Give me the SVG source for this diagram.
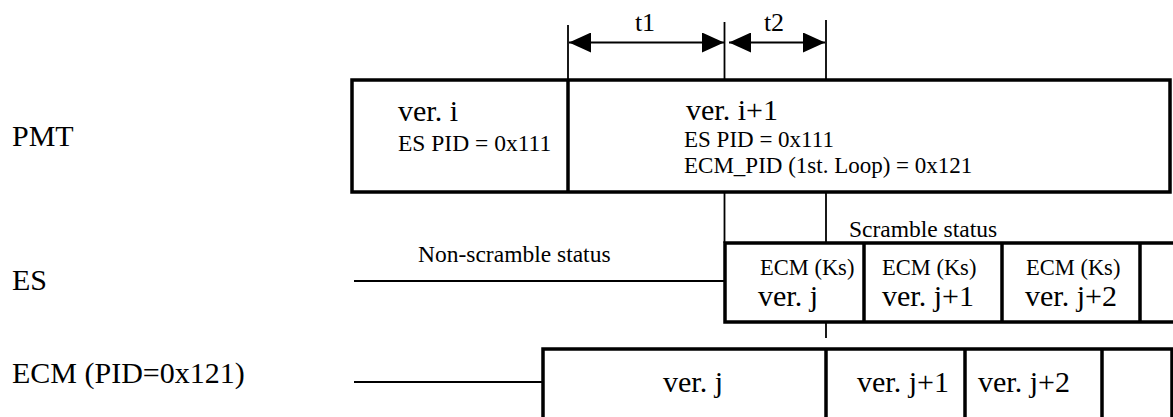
<svg xmlns="http://www.w3.org/2000/svg" width="1173" height="417" viewBox="0 0 1173 417">
  <style>
    text { font-family: "Liberation Serif", "Times New Roman", serif; fill: #000; }
    .lbl { font-size: 30px; }
    .big { font-size: 30px; }
    .mid { font-size: 23.5px; }
    .pid { font-size: 23px; }
    .ks { font-size: 22.5px; }
    .box { fill: #fff; stroke: #000; stroke-width: 3.5; }
    .div { stroke: #000; stroke-width: 3.5; fill: none; }
    .thin { stroke: #000; stroke-width: 1.8; fill: none; }
    .line { stroke: #000; stroke-width: 2.2; fill: none; }
  </style>
  <defs>
    <marker id="ah" viewBox="0 0 22 20" refX="22" refY="10" markerWidth="22" markerHeight="20" markerUnits="userSpaceOnUse" orient="auto-start-reverse">
      <path d="M0,0 L22,10 L0,20 Z" fill="#000"/>
    </marker>
  </defs>
  <rect width="1173" height="417" fill="#fff"/>

  <g id="labels">
    <text class="lbl" x="12" y="146">PMT</text>
    <text class="lbl" x="12" y="290">ES</text>
    <text class="lbl" x="12" y="383">ECM (PID=0x121)</text>
  </g>

  <g id="pmt">
    <rect class="box" x="352" y="80" width="818" height="112"/>
    <line class="div" x1="568" y1="80" x2="568" y2="192"/>
    <text class="big" x="398" y="121">ver. i</text>
    <text class="mid" x="398" y="151">ES PID = 0x111</text>
    <text class="big" x="686" y="120">ver. i+1</text>
    <text class="pid" x="684" y="147">ES PID = 0x111</text>
    <text class="pid" x="684" y="173">ECM_PID (1st. Loop) = 0x121</text>
  </g>

  <g id="es">
    <text class="mid" x="418" y="262">Non-scramble status</text>
    <text class="mid" x="849" y="237">Scramble status</text>
    <rect class="box" x="725" y="243" width="452" height="79"/>
    <line class="div" x1="864" y1="243" x2="864" y2="322"/>
    <line class="div" x1="1002" y1="243" x2="1002" y2="322"/>
    <line class="div" x1="1140" y1="243" x2="1140" y2="322"/>
    <text class="ks" x="760" y="275">ECM (Ks)</text>
    <text class="big" x="758" y="306">ver. j</text>
    <text class="ks" x="882" y="275">ECM (Ks)</text>
    <text class="big" x="882" y="306">ver. j+1</text>
    <text class="ks" x="1026" y="275">ECM (Ks)</text>
    <text class="big" x="1025" y="306">ver. j+2</text>
  </g>

  <g id="ecm">
    <rect class="box" x="543" y="349" width="629" height="80"/>
    <line class="div" x1="826" y1="349" x2="826" y2="420"/>
    <line class="div" x1="965" y1="349" x2="965" y2="420"/>
    <line class="div" x1="1102" y1="349" x2="1102" y2="420"/>
    <text class="big" x="663" y="392">ver. j</text>
    <text class="big" x="857" y="392">ver. j+1</text>
    <text class="big" x="978" y="392">ver. j+2</text>
  </g>

  <g id="connectors">
    <line class="line" x1="354" y1="281" x2="725" y2="281"/>
    <line class="line" x1="354" y1="382" x2="543" y2="382"/>
    <line class="thin" x1="568" y1="25" x2="568" y2="80"/>
    <line class="thin" x1="724.5" y1="22" x2="724.5" y2="80"/>
    <line class="thin" x1="724.5" y1="192" x2="724.5" y2="243"/>
    <line class="thin" x1="826" y1="20" x2="826" y2="80"/>
    <line class="thin" x1="826" y1="192" x2="826" y2="243"/>
    <line class="thin" x1="826" y1="322" x2="826" y2="338"/>
    <line class="thin" x1="569" y1="42.5" x2="724" y2="42.5" marker-start="url(#ah)" marker-end="url(#ah)"/>
    <line class="thin" x1="729" y1="42.5" x2="825" y2="42.5" marker-start="url(#ah)" marker-end="url(#ah)"/>
    <text x="645" y="31" font-size="26" text-anchor="middle">t1</text>
    <text x="774" y="31" font-size="26" text-anchor="middle">t2</text>
  </g>
</svg>
